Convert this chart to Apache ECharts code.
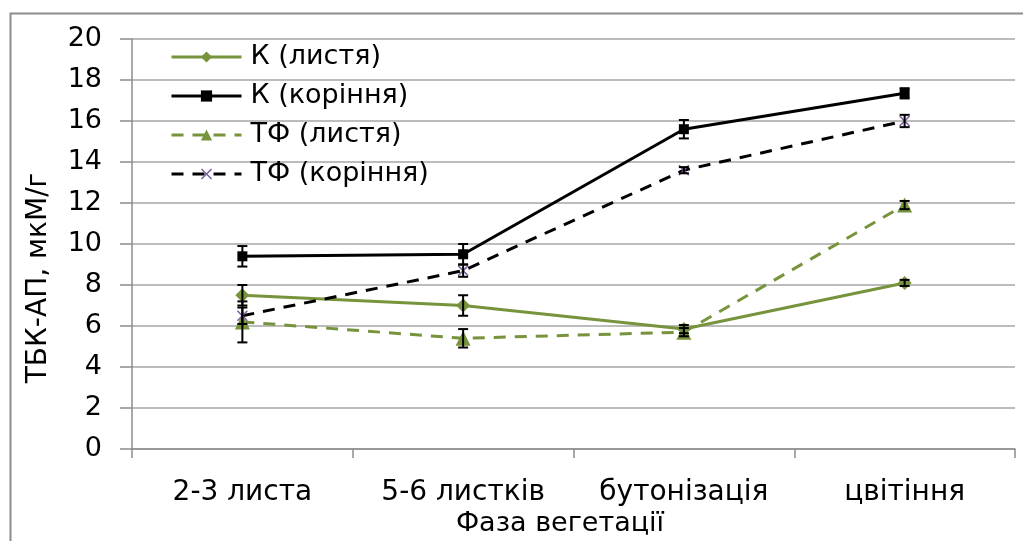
<!DOCTYPE html>
<html>
<head>
<meta charset="utf-8">
<script src="https://cdn.jsdelivr.net/npm/echarts@6/dist/echarts.min.js"></script>
<style>
  html, body { margin: 0; padding: 0; background: #fff; }
  #chart { width: 1023px; height: 541px; }
</style>
</head>
<body>
<div id="chart"></div>
<script>
const categories = ["2-3 листа", "5-6 листків", "бутонізація", "цвітіння"];

const kLeaves = [7.5, 7.0, 5.85, 8.1];
const kLeavesErr = [0.5, 0.5, 0.2, 0.15];
const kRoots = [9.4, 9.5, 15.6, 17.35];
const kRootsErr = [0.5, 0.5, 0.45, 0.25];
const tfLeaves = [6.2, 5.4, 5.7, 11.9];
const tfLeavesErr = [1.0, 0.45, 0.2, 0.2];
const tfRoots = [6.5, 8.7, 13.6, 16.0];
const tfRootsErr = [0.4, 0.3, 0.15, 0.3];

const yTicks = [0, 2, 4, 6, 8, 10, 12, 14, 16, 18, 20];

const FONT = "DejaVu Sans";
const GREEN = "#77933c";
const X_MARK = "path://M0,1 L1,0 L5,4 L9,0 L10,1 L6,5 L10,9 L9,10 L5,6 L1,10 L0,9 L4,5 Z";

function errData(vals, errs) {
  return vals.map((v, i) => [i, v - errs[i], v + errs[i]]);
}

function errSeries(vals, errs, color) {
  return {
    type: "custom",
    silent: true,
    z: 5,
    data: errData(vals, errs),
    renderItem: function (params, api) {
      const lo = api.coord([api.value(0), api.value(1)]);
      const hi = api.coord([api.value(0), api.value(2)]);
      const w = 5;
      const style = { stroke: color, lineWidth: 2 };
      return {
        type: "group",
        children: [
          { type: "line", shape: { x1: lo[0], y1: lo[1], x2: hi[0], y2: hi[1] }, style },
          { type: "line", shape: { x1: lo[0] - w, y1: lo[1], x2: lo[0] + w, y2: lo[1] }, style },
          { type: "line", shape: { x1: hi[0] - w, y1: hi[1], x2: hi[0] + w, y2: hi[1] }, style }
        ]
      };
    }
  };
}

const chart = echarts.init(document.getElementById("chart"));
chart.setOption({
  animation: false,
  textStyle: { fontFamily: FONT },
  grid: { left: 132, right: 8, top: 39, bottom: 92, containLabel: false },
  graphic: [
    {
      type: "rect",
      left: 8, top: 11,
      shape: { width: 1040, height: 600 },
      style: { fill: "none", stroke: "#8c8c8c", lineWidth: 2 },
      silent: true
    },
    {
      type: "text",
      x: 25, y: 278,
      rotation: Math.PI / 2,
      style: {
        text: "ТБК-АП, мкМ/г",
        font: "28px '" + FONT + "'",
        fill: "#000",
        align: "center",
        verticalAlign: "top"
      },
      silent: true
    },
    {
      type: "text",
      x: 560, y: 510,
      style: {
        text: "Фаза вегетації",
        font: "27px '" + FONT + "'",
        fill: "#000",
        align: "center",
        verticalAlign: "top"
      },
      silent: true
    }
  ],
  legend: {
    orient: "vertical",
    left: 170,
    top: 42,
    padding: 0,
    itemWidth: 70,
    itemHeight: 14,
    itemGap: 9,
    lineStyle: { width: 3 },
    textStyle: { fontSize: 27, lineHeight: 30, color: "#000", fontFamily: FONT, padding: [0, 0, 0, 4] },
    data: ["К (листя)", "К (коріння)", "ТФ (листя)", "ТФ (коріння)"]
  },
  xAxis: {
    type: "category",
    data: categories,
    boundaryGap: true,
    axisLine: { lineStyle: { color: "#8c8c8c", width: 1.5 } },
    axisTick: { show: true, length: 9, alignWithLabel: false, lineStyle: { color: "#8c8c8c", width: 1.5 } },
    axisLabel: { fontSize: 28, color: "#000", margin: 30, fontFamily: FONT }
  },
  yAxis: {
    type: "value",
    min: 0,
    max: 20,
    interval: 2,
    axisLine: { show: true, lineStyle: { color: "#8c8c8c", width: 1.5 } },
    axisTick: { show: true, length: 12, lineStyle: { color: "#8c8c8c", width: 1.5 } },
    splitLine: { lineStyle: { color: "#a6a6a6", width: 1.5 } },
    axisLabel: {
      fontSize: 27, color: "#000", margin: 30, fontFamily: FONT,
      formatter: v => (yTicks.indexOf(v) >= 0 ? String(v) : "")
    }
  },
  series: [
    errSeries(kLeaves, kLeavesErr, "#000"),
    errSeries(kRoots, kRootsErr, "#000"),
    errSeries(tfLeaves, tfLeavesErr, "#000"),
    errSeries(tfRoots, tfRootsErr, "#000"),
    {
      name: "К (листя)",
      type: "line",
      data: kLeaves,
      symbol: "diamond",
      symbolSize: 14,
      z: 3,
      itemStyle: { color: GREEN },
      lineStyle: { color: GREEN, width: 3 }
    },
    {
      name: "К (коріння)",
      type: "line",
      data: kRoots,
      symbol: "rect",
      symbolSize: 10,
      z: 3,
      itemStyle: { color: "#000" },
      lineStyle: { color: "#000", width: 3 }
    },
    {
      name: "ТФ (листя)",
      type: "line",
      data: tfLeaves,
      symbol: "triangle",
      symbolSize: 15,
      z: 3,
      itemStyle: { color: GREEN },
      lineStyle: { color: GREEN, width: 3, type: [12, 9] }
    },
    {
      name: "ТФ (коріння)",
      type: "line",
      data: tfRoots,
      symbol: X_MARK,
      symbolSize: 11,
      z: 3,
      itemStyle: { color: "#7d60a0" },
      lineStyle: { color: "#000", width: 3, type: [12, 9] }
    }
  ]
});
</script>
</body>
</html>
